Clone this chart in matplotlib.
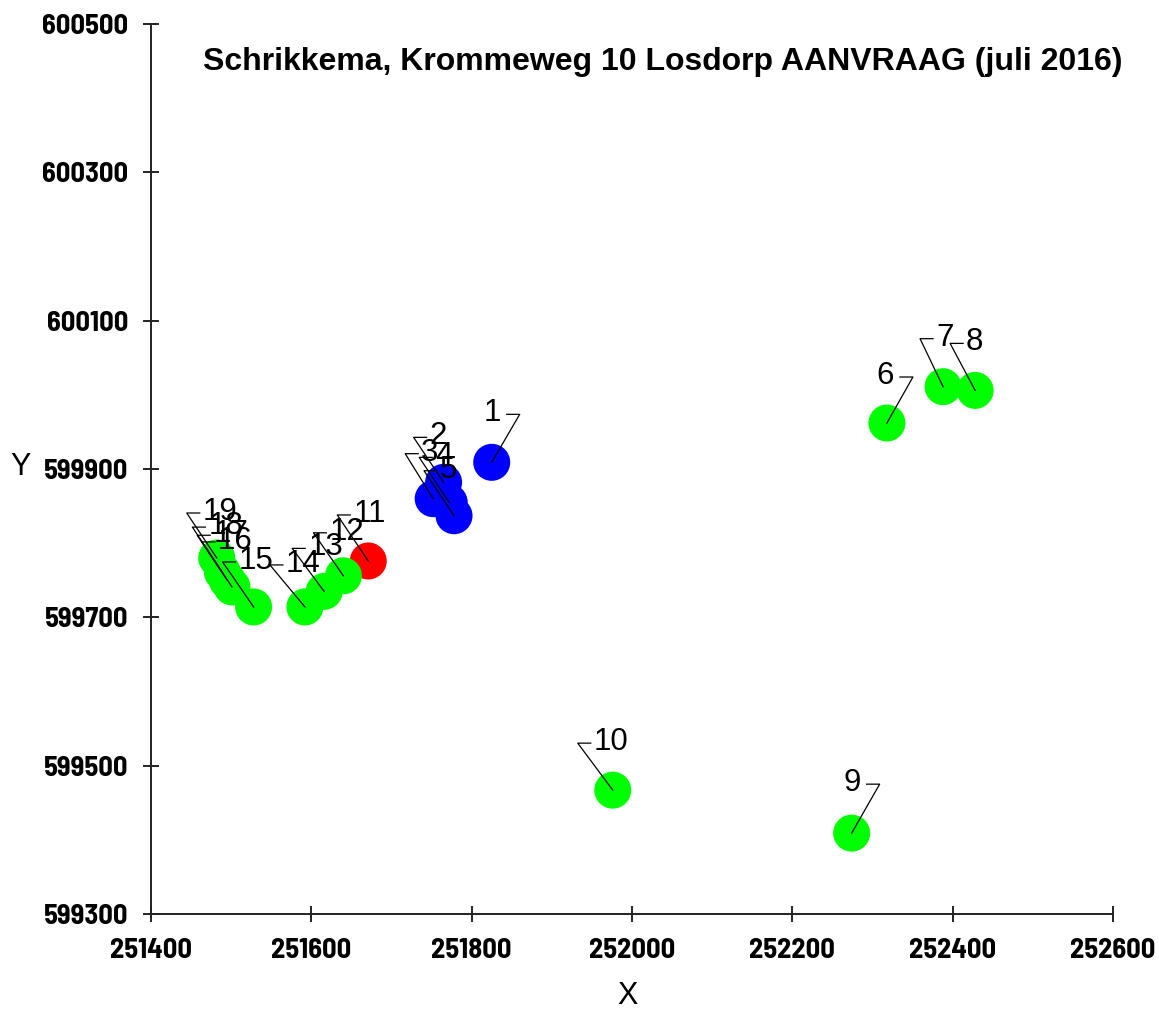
import numpy as np
import matplotlib
matplotlib.use("Agg")
import matplotlib.pyplot as plt
import matplotlib.transforms as mtransforms
from matplotlib.font_manager import FontProperties

# receptor / source locations (RD coordinates)
labels = ['1', '2', '3', '4', '5', '6', '7', '8', '9', '10',
          '11', '12', '13', '14', '15', '16', '17', '18', '19']
x_vals = [251825, 251765, 251752, 251772, 251778, 252318, 252388, 252428, 252274, 251976,
          251671, 251640, 251616, 251592, 251528, 251501, 251495, 251489, 251482]
y_vals = [599909, 599882, 599860, 599855, 599837, 599962, 600011, 600006, 599409, 599467,
          599776, 599756, 599735, 599714, 599714, 599741, 599750, 599761, 599780]
colors = ['#0000FF'] * 5 + ['#00FF00'] * 5 + ['#FF0000'] + ['#00FF00'] * 8

x_ticks = [251400, 251600, 251800, 252000, 252200, 252400, 252600]
y_ticks = [599300, 599500, 599700, 599900, 600100, 600300, 600500]

title = 'Schrikkema, Krommeweg 10 Losdorp AANVRAAG (juli 2016)'

# leader style per label: side of elbow, elbow offset in pixels (image y down)
leader = {
    '1': ('R', 28, -48), '6': ('R', 26, -46), '9': ('R', 28, -49),
    '7': ('L', -23, -48), '8': ('L', -25, -47), '10': ('L', -35, -47),
    '2': ('L', -30, -45), '3': ('L', -28, -45), '4': ('L', -30, -45), '5': ('L', -30, -45),
    '11': ('L', -31, -46), '12': ('L', -30, -43), '13': ('L', -32, -43), '14': ('L', -35, -42),
    '15': ('L', -31, -45), '16': ('L', -30, -45), '17': ('L', -30, -45), '18': ('L', -30, -45),
    '19': ('L', -30, -45),
}

fig = plt.figure(figsize=(11.59, 10.15), dpi=100)
ax = fig.add_axes([151 / 1159, 1 - 914 / 1015, (1113 - 151) / 1159, (914 - 24) / 1015])

ax.scatter(x_vals, y_vals, s=710, c=colors, linewidths=0, zorder=2)

ax.set_xlim(251400, 252600)
ax.set_ylim(599300, 600500)
ax.set_xticks(x_ticks)
ax.set_yticks(y_ticks)
ax.set_xticklabels([str(t) for t in x_ticks])
ax.set_yticklabels([str(t) for t in y_ticks])

tick_fp = FontProperties(family='Barlow Semi Condensed', weight='bold', size=20.5)
for t in ax.get_xticklabels() + ax.get_yticklabels():
    t.set_fontproperties(tick_fp)

ax.tick_params(direction='inout', length=11, width=1.4, color='#222222')
ax.tick_params(axis='x', pad=12)
ax.tick_params(axis='y', pad=11)
for s in ['top', 'right']:
    ax.spines[s].set_visible(False)
for s in ['left', 'bottom']:
    ax.spines[s].set_linewidth(1.4)
    ax.spines[s].set_color('#222222')

# leader lines and point labels
ident = mtransforms.IdentityTransform()
dash = 13
for lab, x, y in zip(labels, x_vals, y_vals):
    side, ex, ey = leader[lab]
    ey = -ey
    px, py = ax.transData.transform((x, y))
    if side == 'R':
        hx = ex - dash
        tx, ha = hx - 6, 'right'
    else:
        hx = ex + dash
        tx, ha = hx + 3, 'left'
    ax.plot([px, px + ex, px + hx], [py, py + ey, py + ey], transform=ident,
            color='black', lw=0.9, clip_on=False, zorder=3)
    ax.text(px + tx, py + ey + 1, lab, transform=ident, ha=ha, va='center',
            fontsize=22.5, family='Liberation Sans', color='black', zorder=4)

fig.text(663 / 1159, 1 - 62 / 1015, title, ha='center', va='center',
         fontsize=23, fontweight='bold', family='Liberation Sans')
fig.text(21 / 1159, 1 - 467 / 1015, 'Y', ha='center', va='center',
         fontsize=22, family='Liberation Sans')
fig.text(628 / 1159, 1 - 996 / 1015, 'X', ha='center', va='center',
         fontsize=22, family='Liberation Sans')

fig.savefig('out.png', dpi=100, facecolor='white')
